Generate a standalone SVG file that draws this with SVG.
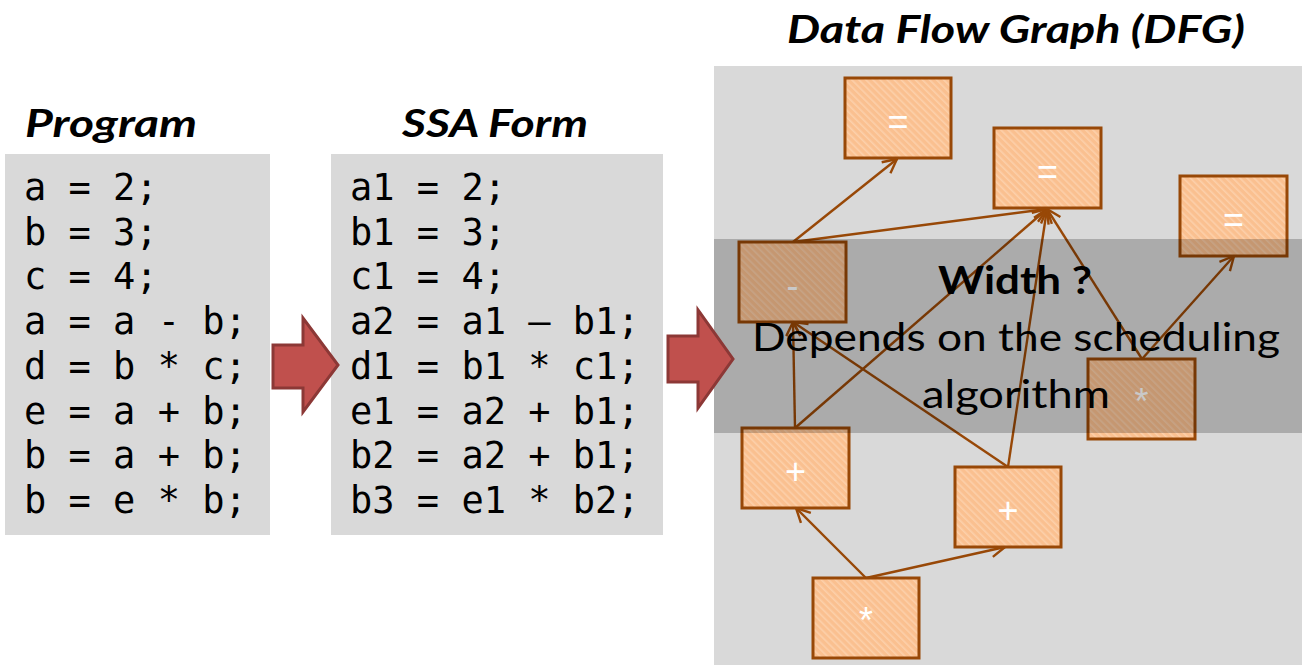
<svg xmlns="http://www.w3.org/2000/svg" width="1302" height="665" viewBox="0 0 1302 665">
  <style>
    .panel { fill: #d9d9d9; }
    .title { font-family: Lato, "Open Sans", "Liberation Sans", sans-serif; font-weight: bold; font-style: italic; font-size: 39px; fill: #000; }
    .code { font-family: "DejaVu Sans Mono", "Liberation Mono", monospace; font-size: 37px; fill: #000; }
    .op { fill: url(#hatch); stroke: #984807; stroke-width: 3; }
    .oplabel { font-family: "Liberation Sans", Arial, sans-serif; font-size: 36px; fill: #ffffff; text-anchor: middle; }
    .edge { stroke: #984807; stroke-width: 2.4; fill: none; marker-end: url(#open); }
    .bigarrow { fill: #c0504d; stroke: #8c3836; stroke-width: 3; stroke-linejoin: miter; }
    .note { font-family: Lato, "Open Sans", "Liberation Sans", sans-serif; font-size: 39px; fill: #000; text-anchor: middle; }
  </style>
  <defs>
    <pattern id="hatch" patternUnits="userSpaceOnUse" width="5" height="5" patternTransform="rotate(-45)">
      <rect width="5" height="5" fill="#fac090"/>
      <rect width="1.6" height="5" fill="#fcd0aa"/>
    </pattern>
    <marker id="open" markerUnits="userSpaceOnUse" markerWidth="18" markerHeight="18" viewBox="0 0 18 18" refX="16" refY="9" orient="auto">
      <path d="M2,2 L16,9 L2,16" fill="none" stroke="#984807" stroke-width="2.4"/>
    </marker>
  </defs>

  <rect width="1302" height="665" fill="#ffffff"/>

  <!-- Program column -->
  <g id="program">
    <text class="title" x="25" y="137" textLength="172" lengthAdjust="spacingAndGlyphs">Program</text>
    <rect class="panel" x="5" y="154" width="265" height="381"/>
    <text class="code" x="24" y="200">a = 2;</text>
    <text class="code" x="24" y="244.7">b = 3;</text>
    <text class="code" x="24" y="289.4">c = 4;</text>
    <text class="code" x="24" y="334.1">a = a - b;</text>
    <text class="code" x="24" y="378.8">d = b * c;</text>
    <text class="code" x="24" y="423.5">e = a + b;</text>
    <text class="code" x="24" y="468.2">b = a + b;</text>
    <text class="code" x="24" y="512.9">b = e * b;</text>
  </g>

  <!-- SSA column -->
  <g id="ssa">
    <text class="title" x="402" y="137" textLength="186" lengthAdjust="spacingAndGlyphs">SSA Form</text>
    <rect class="panel" x="331" y="154" width="332" height="381"/>
    <text class="code" x="350" y="200">a1 = 2;</text>
    <text class="code" x="350" y="244.7">b1 = 3;</text>
    <text class="code" x="350" y="289.4">c1 = 4;</text>
    <text class="code" x="350" y="334.1">a2 = a1 – b1;</text>
    <text class="code" x="350" y="378.8">d1 = b1 * c1;</text>
    <text class="code" x="350" y="423.5">e1 = a2 + b1;</text>
    <text class="code" x="350" y="468.2">b2 = a2 + b1;</text>
    <text class="code" x="350" y="512.9">b3 = e1 * b2;</text>
  </g>

  <!-- DFG panel -->
  <text class="title" x="787" y="43" textLength="458" lengthAdjust="spacingAndGlyphs">Data Flow Graph (DFG)</text>
  <rect class="panel" x="714" y="66" width="588" height="599"/>

  <g id="connectors">
    <line class="edge" x1="793" y1="242" x2="897" y2="159"/>
    <line class="edge" x1="793" y1="242" x2="1047" y2="209"/>
    <line class="edge" x1="795" y1="428" x2="1047" y2="209"/>
    <line class="edge" x1="1008" y1="467" x2="1047" y2="209"/>
    <line class="edge" x1="1142" y1="359" x2="1047" y2="209"/>
    <line class="edge" x1="1142" y1="359" x2="1234" y2="256"/>
    <line class="edge" x1="795" y1="428" x2="793" y2="322"/>
    <line class="edge" x1="1008" y1="467" x2="793" y2="322"/>
    <line class="edge" x1="866" y1="578" x2="796" y2="508"/>
    <line class="edge" x1="866" y1="578" x2="1005" y2="547"/>
  </g>

  <g id="n-eq1">
    <rect class="op" x="845" y="78" width="106" height="80"/>
    <text class="oplabel" x="898" y="134">=</text>
  </g>
  <g id="n-eq2">
    <rect class="op" x="994" y="128" width="107" height="80"/>
    <text class="oplabel" x="1047.5" y="184">=</text>
  </g>
  <g id="n-eq3">
    <rect class="op" x="1180" y="176" width="107" height="80"/>
    <text class="oplabel" x="1233.5" y="232">=</text>
  </g>
  <g id="n-sub">
    <rect class="op" x="739" y="242" width="107" height="80"/>
    <text class="oplabel" x="792.5" y="298">-</text>
  </g>
  <g id="n-mul2">
    <rect class="op" x="1088" y="359" width="107" height="80"/>
    <text class="oplabel" x="1141.5" y="414">*</text>
  </g>
  <g id="n-add1">
    <rect class="op" x="742" y="428" width="107" height="80"/>
    <text class="oplabel" x="795.5" y="484">+</text>
  </g>
  <g id="n-add2">
    <rect class="op" x="955" y="467" width="106" height="80"/>
    <text class="oplabel" x="1008" y="523">+</text>
  </g>
  <g id="n-mul1">
    <rect class="op" x="813" y="578" width="106" height="80"/>
    <text class="oplabel" x="866" y="633">*</text>
  </g>

  <!-- shaded band with the width question -->
  <rect x="714" y="239" width="588" height="194" fill="#000000" fill-opacity="0.21"/>
  <text class="note" x="1015" y="294" font-weight="bold" textLength="154" lengthAdjust="spacingAndGlyphs">Width ?</text>
  <text class="note" x="1016" y="351" textLength="528" lengthAdjust="spacingAndGlyphs">Depends on the scheduling</text>
  <text class="note" x="1016" y="408" textLength="188" lengthAdjust="spacingAndGlyphs">algorithm</text>

  <!-- transformation arrows -->
  <g id="arrow1">
    <polygon class="bigarrow" points="273,345 303,345 303,318 338,365 303,412 303,388 273,388"/>
  </g>
  <g id="arrow2">
    <polygon class="bigarrow" points="668,336 698,336 698,310 733,359 698,408 698,382 668,382"/>
  </g>
</svg>
